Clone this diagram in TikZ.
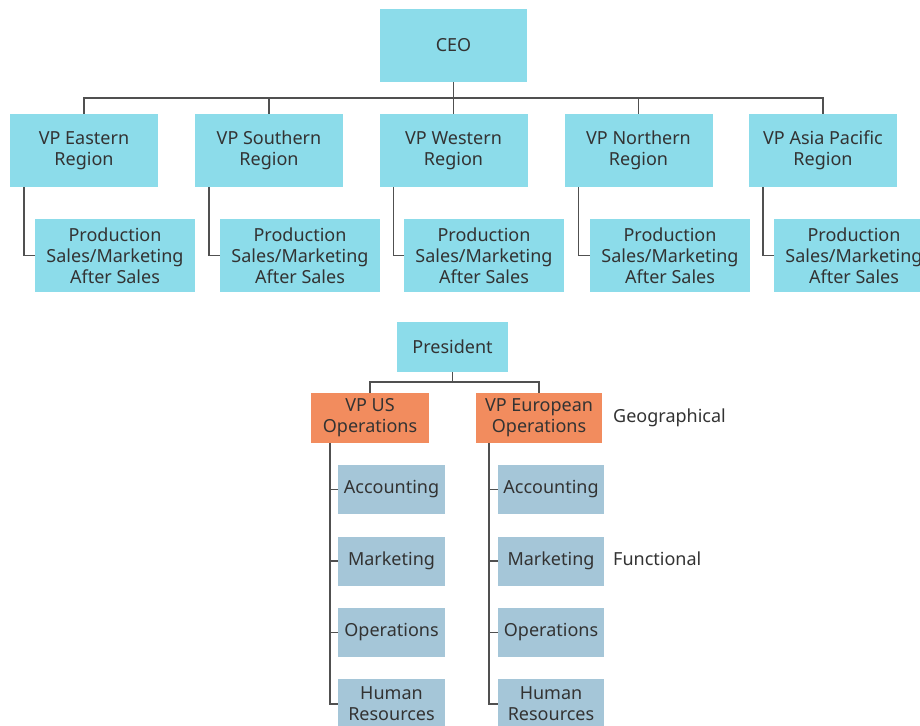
\documentclass[tikz,border=0pt]{standalone}
\usepackage{fontspec}
\setmainfont{Noto Sans}
\definecolor{regioncyan}{HTML}{8CDCEA}
\definecolor{geoorange}{HTML}{F28C5E}
\definecolor{funcblue}{HTML}{A5C6D8}
\definecolor{inkgray}{HTML}{333333}
\definecolor{wiregray}{HTML}{505050}
\tikzset{
  orgbox/.style={draw=none, inner sep=0pt, align=center, text=inkgray,
    font=\fontsize{18}{21}\selectfont},
  cyanbox/.style={orgbox, fill=regioncyan},
  orangebox/.style={orgbox, fill=geoorange},
  funcbox/.style={orgbox, fill=funcblue},
  wire/.style={draw=wiregray, line width=1.6pt},
  tag/.style={anchor=west, inner sep=0pt, text=inkgray,
    font=\fontsize{18}{21}\selectfont}
}
\begin{document}
\begin{tikzpicture}[x=1pt,y=-1pt]
\useasboundingbox (0,0) rectangle (920,725);
\fill[white] (0,0) rectangle (920,725);

% Regional structure
\node[cyanbox, minimum width=147pt, minimum height=73pt] (ceo) at (453.5,45.5) {CEO};

\foreach \n/\cx/\txt in {E/84/{VP Eastern\\Region}, S/269/{VP Southern\\Region},
    W/453.5/{VP Western\\Region}, N/638.5/{VP Northern\\Region},
    A/823/{VP Asia Pacific\\Region}} {
  \node[cyanbox, minimum width=148pt, minimum height=73pt] (vp\n) at (\cx,150.5) {\txt};
}
\foreach \n/\cx in {E/115, S/300, W/484, N/670, A/854} {
  \node[cyanbox, minimum width=160pt, minimum height=73pt] (sub\n) at (\cx,255.5)
    {Production\\Sales/Marketing\\After Sales};
}

\foreach \n in {E,S,W,N,A} {
  \draw[wire] (ceo.south) -- ++(0,16) -| (vp\n.north);
  \draw[wire] ([xshift=14pt]vp\n.south west) |- (sub\n.west);
}

% Geographical / functional structure
\node[cyanbox, minimum width=111pt, minimum height=50pt] (pres) at (452.5,347) {President};
\node[orangebox, minimum width=118pt, minimum height=50pt] (vpUS) at (370,418) {VP US\\Operations};
\node[orangebox, minimum width=126pt, minimum height=50pt] (vpEU) at (539,418) {VP European\\Operations};

\draw[wire] (pres.south) -- ++(0,10) -| (vpUS.north);
\draw[wire] (pres.south) -- ++(0,10) -| (vpEU.north);

\coordinate (usSpine) at (330,443);
\coordinate (euSpine) at (489,443);

\foreach \col/\cx/\w in {us/391.5/107, eu/551/106} {
  \node[funcbox, minimum width=\w pt, minimum height=49pt] (\col Acc) at (\cx,489.5) {Accounting};
  \node[funcbox, minimum width=\w pt, minimum height=49pt] (\col Mkt) at (\cx,561) {Marketing};
  \node[funcbox, minimum width=\w pt, minimum height=49pt] (\col Ops) at (\cx,632.5) {Operations};
  \node[funcbox, minimum width=\w pt, minimum height=50pt] (\col HR) at (\cx,704) {Human\\Resources};
  \draw[wire] (\col Spine) |- (\col HR.west);
  \foreach \b in {Acc, Mkt, Ops} {
    \draw[wire] (\col\b.west) -- (\col\b.west -| \col Spine);
  }
}

\node[tag] (geo) at (613,418) {Geographical};
\node[tag] (fun) at (613,559) {Functional};
\end{tikzpicture}
\end{document}
